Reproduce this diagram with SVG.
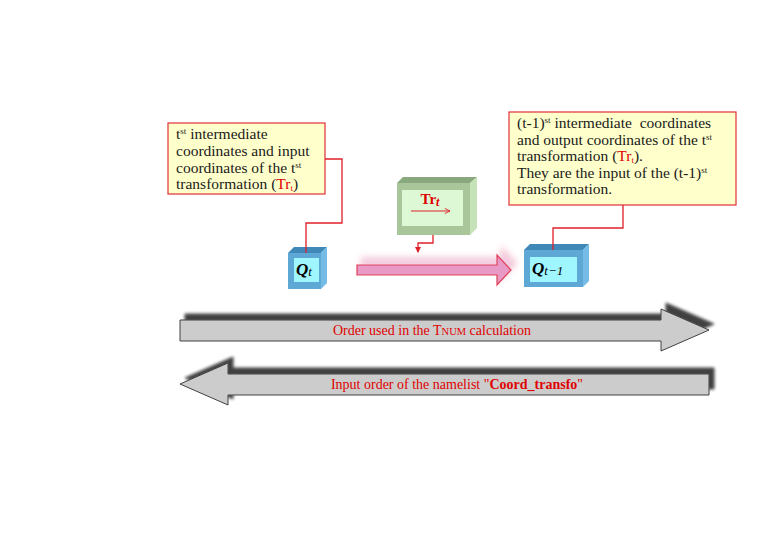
<svg xmlns="http://www.w3.org/2000/svg" width="780" height="540" viewBox="0 0 780 540">
<defs>
<style>
.call{fill:#FFFFCC;stroke:#E0303A;stroke-width:1.2}
.txt{font-family:"Liberation Serif","Times New Roman",serif;font-size:15.5px;fill:#1a1a1a}
.red{fill:#E00000}
.con{fill:none;stroke:#E0202A;stroke-width:1.3}
.gray{fill:#CCCCCC;stroke:#404040;stroke-width:1}
.atxt{font-family:"Liberation Serif","Times New Roman",serif;font-size:14px;fill:#E00000;text-anchor:middle}
.bfront{fill:#5EA8D6}
.btop{fill:#3F88B8}
.bside{fill:#74BCE6}
.binner{fill:#A0F6FF}
</style>
<filter id="shd" x="-5%" y="-40%" width="110%" height="180%">
<feGaussianBlur in="SourceAlpha" stdDeviation="1.8"/>
<feOffset dx="5" dy="-6" result="b"/>
<feComponentTransfer><feFuncA type="linear" slope="0.75"/></feComponentTransfer>
<feMerge><feMergeNode/><feMergeNode in="SourceGraphic"/></feMerge>
</filter>
<filter id="glow" x="-10%" y="-80%" width="120%" height="260%">
<feGaussianBlur in="SourceGraphic" stdDeviation="3"/>
<feOffset dx="5" dy="-7"/>
<feComponentTransfer><feFuncA type="linear" slope="0.5"/></feComponentTransfer>
<feMerge><feMergeNode/><feMergeNode in="SourceGraphic"/></feMerge>
</filter>
<marker id="ah" viewBox="0 0 6 6" refX="5" refY="3" markerWidth="5" markerHeight="5" orient="auto">
<path d="M0,0 L6,3 L0,6 Z" fill="#E0202A"/>
</marker>
<marker id="oh" viewBox="0 0 8 8" refX="7" refY="4" markerWidth="7" markerHeight="7" markerUnits="userSpaceOnUse" orient="auto">
<path d="M1,1 L7,4 L1,7" fill="none" stroke="#E0202A" stroke-width="1"/>
</marker>
</defs>

<g id="arrow-order">
<path class="gray" filter="url(#shd)" d="M180,320 H661 V309 L709,330 L661,351 V341 H180 Z"/>
<text class="atxt" x="432" y="335">Order used in the T<tspan font-size="10.5px">NUM</tspan> calculation</text>
</g>

<g id="arrow-input">
<path class="gray" filter="url(#shd)" d="M180,384 L228,363 V374 H709 V395 H228 V405 Z"/>
<text class="atxt" x="457" y="389">Input order of the namelist "<tspan font-weight="bold">Coord_transfo</tspan>"</text>
</g>

<g id="arrow-transform">
<path filter="url(#glow)" d="M357,265 H497 V255 L511,270 L497,285 V275 H357 Z" fill="#E899C6" stroke="#E04058" stroke-width="1.2"/>
</g>

<g id="callout-left">
<rect class="call" x="168" y="123" width="157" height="71"/>
<text class="txt" x="176" y="139">t<tspan font-size="9px" dy="-5">st</tspan><tspan dy="5"> intermediate</tspan></text>
<text class="txt" x="176" y="156">coordinates and input</text>
<text class="txt" x="176" y="172.5">coordinates of the t<tspan font-size="9px" dy="-5">st</tspan></text>
<text class="txt" x="176" y="189">transformation (<tspan class="red">Tr</tspan><tspan class="red" font-size="9px" dy="2">t</tspan><tspan dy="-2">)</tspan></text>
</g>

<g id="callout-right">
<rect class="call" x="509" y="112" width="227" height="93"/>
<text class="txt" x="517" y="128">(t-1)<tspan font-size="9px" dy="-5">st</tspan><tspan dy="5"> intermediate&#160; coordinates</tspan></text>
<text class="txt" x="517" y="144.5">and output coordinates of the t<tspan font-size="9px" dy="-5">st</tspan></text>
<text class="txt" x="517" y="161">transformation (<tspan class="red">Tr</tspan><tspan class="red" font-size="9px" dy="2">t</tspan><tspan dy="-2">).</tspan></text>
<text class="txt" x="517" y="177.5">They are the input of the (t-1)<tspan font-size="9px" dy="-5">st</tspan></text>
<text class="txt" x="517" y="194">transformation.</text>
</g>

<g id="node-tr">
<polygon points="397,183 403,177 477,177 470,183" fill="#8AA87E"/>
<polygon points="470,183 477,177 477,228 470,235" fill="#C6E2B8"/>
<rect x="397" y="183" width="73" height="52" fill="#A8C69A"/>
<rect x="402" y="190" width="61" height="36" fill="#DDF8D4"/>
<text x="430" y="204" text-anchor="middle" font-family="'Liberation Serif','Times New Roman',serif" font-weight="bold" font-size="15px" fill="#E00000">Tr<tspan font-style="italic" font-size="12px" dy="2">t</tspan></text>
<line x1="411" y1="211" x2="450" y2="211" stroke="#E0202A" stroke-width="1" marker-end="url(#oh)"/>
</g>

<g id="node-qt">
<polygon class="btop" points="288,253 294,247 327,247 321,253"/>
<polygon class="bside" points="321,253 327,247 327,283 321,289"/>
<rect class="bfront" x="288" y="253" width="33" height="36"/>
<rect class="binner" x="294" y="258" width="25" height="24"/>
<text x="296" y="275" font-family="'Liberation Serif','Times New Roman',serif" font-weight="bold" font-style="italic" font-size="17px" fill="#000">Q<tspan font-weight="normal" font-size="13px" dy="1">t</tspan></text>
</g>

<g id="node-qt1">
<polygon class="btop" points="524,250 530,244 589,244 583,250"/>
<polygon class="bside" points="583,250 589,244 589,281 583,287"/>
<rect class="bfront" x="524" y="250" width="59" height="37"/>
<rect class="binner" x="530" y="257" width="47" height="25"/>
<text x="532" y="274" font-family="'Liberation Serif','Times New Roman',serif" font-weight="bold" font-style="italic" font-size="17px" fill="#000">Q<tspan font-weight="normal" font-size="13px" dy="1">t−1</tspan></text>
</g>

<g id="connectors">
<path class="con" d="M325,159 H342 V223 H306 V253"/>
<path class="con" d="M623,205 V228 H553 V250"/>
<path class="con" d="M433,235 V243 H418 V252" marker-end="url(#ah)"/>
</g>
</svg>
